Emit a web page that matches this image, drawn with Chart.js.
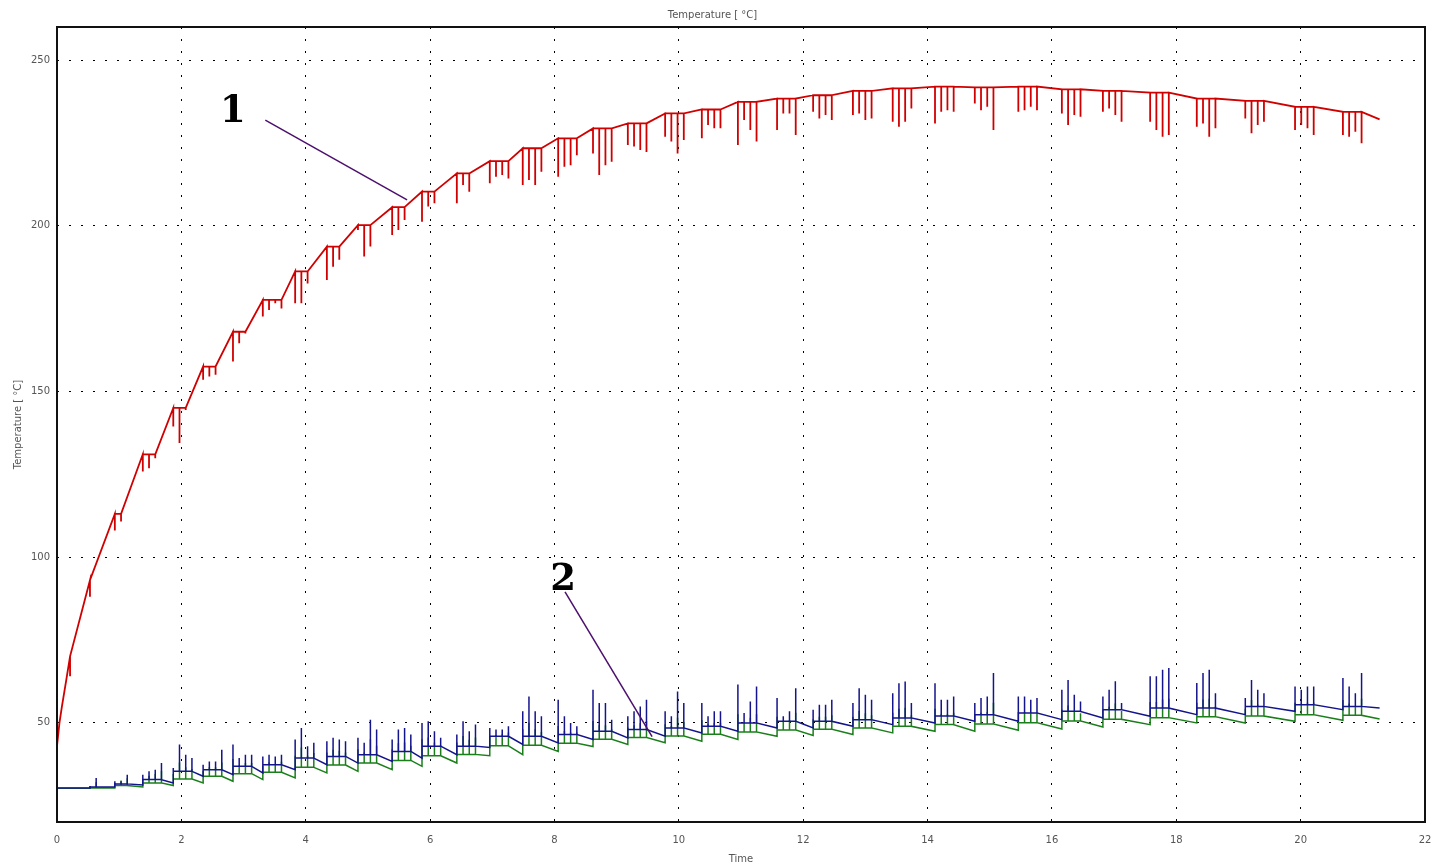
<!DOCTYPE html>
<html>
<head>
<meta charset="utf-8">
<title>Temperature</title>
<script src="https://cdn.jsdelivr.net/npm/chart.js@4.4.1/dist/chart.umd.min.js"></script>
<style>
  html, body { margin: 0; padding: 0; background: #fff; }
  #wrap { width: 1431px; height: 865px; }
</style>
</head>
<body>
<div id="wrap"><canvas id="tempChart" width="1431" height="865"></canvas></div>
<script>
// Times where a burst of events starts (all three curves share them)
const groupTimes = [0.21, 0.53, 0.93, 1.38, 1.87, 2.35, 2.83, 3.31, 3.83, 4.34, 4.84, 5.39,
  5.87, 6.43, 6.96, 7.49, 8.06, 8.62, 9.18, 9.78, 10.37, 10.95, 11.58, 12.16,
  12.80, 13.44, 14.12, 14.76, 15.46, 16.16, 16.82, 17.58, 18.33, 19.11, 19.91, 20.68];
// time of each spike inside a burst, counted from the burst start
const spikeOffsets = [0, 0.1, 0.2, 0.3];
const endTime = 21.27;

// Curve 1 (red)
const redLeadT = [0, 0.04, 0.08, 0.15];
const redLeadY = [43, 50, 55, 63];
const redTop = [70, 93, 113, 131, 145, 157.5, 168, 177.6, 186.2, 193.7, 200.2, 205.6,
  210.3, 215.8, 219.5, 223.4, 226.4, 229.4, 230.9, 233.9, 235.1, 237.4, 238.4, 239.4,
  240.7, 241.5, 242, 241.8, 242, 241.2, 240.7, 240.2, 238.4, 237.7, 235.9, 234.4];
const redDips = [
  [64], [88], [108, 110.7], [125.8, 126.8, 129.8], [139.4, 134.4, 144.4],
  [153.5, 154.5, 155], [159, 164.5, 167.5], [172.6, 174.6, 176.6, 175],
  [176.6, 176.6, 182.6], [183.6, 187.6, 189.7], [198.7, 190.7, 193.7],
  [197.2, 198.7, 201.7], [201.2, 205.8, 206.8], [206.8, 212.3, 210.3],
  [212.8, 214.8, 215.3, 214.3], [212.3, 213.8, 212.3, 216.3], [214.8, 217.8, 218.3, 221.3],
  [221.8, 215.3, 218.3, 219.3], [224.4, 223.9, 222.9, 222.3], [226.9, 225.4, 221.8, 225.9],
  [226.4, 230.4, 229.4, 229.4], [224.4, 231.9, 228.9, 225.4], [228.9, 233.9, 233.9, 227.4],
  [234.4, 232.4, 233.4, 231.9], [233.4, 233.9, 231.9, 232.4], [231.4, 229.9, 231.4, 235.4],
  [230.9, 234.4, 234.9, 234.4], [236.9, 234.9, 235.9, 228.9], [234.4, 234.9, 235.9, 234.9],
  [233.9, 230.4, 233.4, 232.9], [234.4, 235.4, 233.4, 231.4], [231.4, 228.9, 226.9, 227.4],
  [229.9, 230.9, 226.9, 229.4], [232.4, 227.9, 230.4, 231.4], [228.9, 230.4, 229.4, 227.4],
  [227.4, 226.9, 228.4, 224.9]];
const redEnd = 232.1;

// Curve 2, upper (blue)
const blueStart = 30.3;
const blueBase = [30.3, 30.3, 30.6, 31.2, 31.8, 33.8, 34.3, 34.8, 35.8, 37.3, 37.8, 38.3,
  39.3, 40.3, 42.5, 43.4, 43.9, 44.9, 45.4, 45.9, 46.9, 47.4, 48.4, 48.4,
  48.9, 49.4, 49.9, 50.4, 50.4, 50.9, 51.4, 51.9, 52.4, 52.4, 53.4, 53.9];
const blueAfter = [30.3, 30.6, 31.5, 32.8, 35.3, 35.8, 36.8, 37.3, 39.3, 39.8, 40.3, 41.3,
  42.9, 42.9, 45.9, 45.9, 46.4, 47.4, 47.9, 48.4, 48.9, 49.9, 50.4, 50.4,
  50.9, 51.4, 52.0, 52.4, 52.9, 53.4, 53.9, 54.4, 54.4, 54.9, 55.4, 54.9];
const bluePeaks = [
  [], [30.9, 33.3], [32.3, 32.3, 34.3], [34.3, 35.3, 35.8, 37.8], [36.3, 43.4, 40.3, 39.3],
  [37.3, 38.3, 38.3, 41.8], [43.4, 39.3, 40.3, 40.3], [39.8, 40.3, 39.8, 40.3],
  [44.9, 48.4, 42.9, 43.9], [44.4, 45.4, 44.9, 44.4], [45.4, 43.9, 50.9, 47.9],
  [44.9, 47.9, 48.4, 46.4], [49.9, 50.4, 47.4, 45.4], [46.4, 50.4, 47.4, 49.4],
  [48.4, 47.9, 47.9, 48.9], [53.4, 57.9, 53.4, 51.9], [56.9, 51.9, 49.9, 48.9],
  [59.9, 55.9, 55.9, 50.9], [51.9, 53.4, 54.9, 56.9], [53.4, 51.9, 59.4, 55.9],
  [55.9, 51.9, 53.4, 53.4], [61.5, 52.9, 56.4, 60.9], [57.4, 51.9, 53.4, 60.4],
  [53.9, 55.4, 55.4, 56.9], [55.9, 60.4, 58.4, 56.9], [58.9, 61.9, 62.4, 55.9],
  [61.9, 56.9, 56.9, 57.9], [55.9, 57.4, 57.9, 65.0], [57.9, 57.9, 56.9, 57.4],
  [59.9, 62.9, 58.4, 56.4], [57.9, 59.9, 62.5, 55.9], [64.0, 64.0, 66.0, 66.5],
  [62.0, 65.0, 66.0, 58.9], [57.4, 62.9, 59.9, 58.9], [60.9, 59.9, 60.9, 60.9],
  [63.5, 60.9, 58.9, 65.0]];
const blueEnd = 54.4;

// Curve 2, lower (green)
const greenStart = 30.2;
const greenBase = [30.2, 30.2, 30.3, 30.6, 31.0, 31.8, 32.3, 32.8, 33.3, 34.8, 35.3, 35.8,
  36.8, 37.8, 40.0, 40.3, 41.3, 42.8, 43.4, 43.9, 44.4, 44.9, 45.9, 46.1,
  46.4, 46.9, 47.4, 47.4, 47.7, 48.1, 48.7, 49.4, 49.9, 49.9, 50.4, 50.7];
const greenAfter = [30.2, 30.3, 31.0, 31.8, 33.0, 33.8, 34.6, 35.0, 36.5, 37.2, 37.8, 38.6,
  40.0, 40.4, 43.0, 43.2, 43.8, 45.0, 45.5, 46.0, 46.5, 47.2, 47.8, 48.0,
  48.4, 48.9, 49.4, 49.6, 50.0, 50.5, 51.0, 51.5, 51.8, 52.0, 52.4, 52.2];
const greenPeaks = [
  [], [30.8, 32.0], [31.8, 32.5, 33.2], [33.0, 34.0, 34.5, 35.5], [34.5, 38.0, 36.5, 36.0],
  [35.5, 36.5, 36.5, 38.0], [39.0, 37.0, 37.8, 37.8], [37.0, 38.0, 37.5, 38.2],
  [40.0, 42.5, 40.0, 40.8], [41.0, 41.8, 41.5, 41.0], [42.0, 41.0, 45.0, 43.0],
  [42.0, 43.8, 44.0, 43.0], [45.0, 45.5, 44.0, 43.2], [44.0, 46.0, 44.8, 45.5],
  [46.0, 46.2, 46.5, 47.0], [48.0, 50.0, 48.0, 47.2], [49.0, 47.5, 47.0, 47.0],
  [50.5, 49.2, 49.2, 48.0], [48.5, 49.2, 49.8, 50.5], [49.5, 49.0, 51.5, 50.2],
  [50.8, 49.5, 50.0, 50.0], [52.5, 50.0, 51.5, 52.5], [51.8, 50.2, 50.8, 53.0],
  [51.0, 51.8, 51.8, 52.2], [51.8, 53.5, 52.8, 52.2], [53.0, 54.2, 54.5, 52.2],
  [54.2, 52.5, 52.5, 53.0], [52.5, 53.0, 53.2, 56.0], [53.2, 53.2, 52.8, 53.0],
  [54.0, 55.2, 53.5, 52.8], [54.0, 54.8, 55.8, 53.5], [56.2, 56.2, 57.0, 57.2],
  [56.0, 57.0, 57.2, 54.8], [54.2, 56.8, 55.5, 55.0], [56.0, 55.8, 56.0, 56.0],
  [56.8, 55.8, 55.0, 57.2]];
const greenEnd = 51.1;

// axes
const xTickValues = [0, 2, 4, 6, 8, 10, 12, 14, 16, 18, 20, 22];
const yTickValues = [50, 100, 150, 200, 250];

// callout numbers "1" and "2" (data coordinates)
const calloutText = ['1', '2'];
const calloutAt = [[2.83, 231.3], [8.14, 90.1]];
const calloutFrom = [[3.35, 231.9], [8.17, 89.5]];
const calloutTo = [[5.63, 207.8], [9.57, 45.8]];

function redPoints() {
  const pts = redLeadT.map((t, i) => ({ x: t, y: redLeadY[i] }));
  groupTimes.forEach((t0, i) => {
    const top = redTop[i];
    pts.push({ x: t0, y: top });
    redDips[i].forEach((low, k) => {
      const t = t0 + spikeOffsets[k];
      pts.push({ x: t, y: top }, { x: t, y: low }, { x: t, y: top });
    });
  });
  pts.push({ x: endTime, y: redEnd });
  return pts;
}

function spikyPoints(start, base, after, peaks, end) {
  const pts = [{ x: 0, y: start }];
  groupTimes.forEach((t0, i) => {
    pts.push({ x: t0, y: base[i] });
    peaks[i].forEach((p, k) => {
      const t = t0 + spikeOffsets[k];
      const lvl = k === 0 ? base[i] : after[i];
      pts.push({ x: t, y: lvl }, { x: t, y: p }, { x: t, y: after[i] });
    });
  });
  pts.push({ x: endTime, y: end });
  return pts;
}

const calloutPlugin = {
  id: 'callouts',
  afterDatasetsDraw(chart) {
    const { ctx, chartArea, scales: { x, y } } = chart;
    ctx.save();
    // frame round the plot
    ctx.strokeStyle = '#111';
    ctx.lineWidth = 2;
    ctx.strokeRect(chartArea.left, chartArea.top, chartArea.right - chartArea.left, chartArea.bottom - chartArea.top);

    ctx.strokeStyle = '#4b0f6e';
    ctx.lineWidth = 1.5;
    calloutFrom.forEach((p, i) => {
      ctx.beginPath();
      ctx.moveTo(x.getPixelForValue(p[0]), y.getPixelForValue(p[1]));
      ctx.lineTo(x.getPixelForValue(calloutTo[i][0]), y.getPixelForValue(calloutTo[i][1]));
      ctx.stroke();
    });
    ctx.fillStyle = '#000';
    ctx.font = 'bold 37px "DejaVu Serif"';
    ctx.textAlign = 'center';
    ctx.textBaseline = 'alphabetic';
    calloutText.forEach((txt, i) => {
      ctx.fillText(txt, x.getPixelForValue(calloutAt[i][0]), y.getPixelForValue(calloutAt[i][1]));
    });
    ctx.restore();
  }
};

Chart.defaults.font.family = "'DejaVu Sans', sans-serif";
Chart.defaults.font.size = 10;
Chart.defaults.color = '#555';

const ctx = document.getElementById('tempChart');
new Chart(ctx, {
  type: 'line',
  data: {
    datasets: [
      { label: '1', data: redPoints(), borderColor: '#d00000', borderWidth: 1.8, pointRadius: 0, tension: 0 },
      { label: '2a', data: spikyPoints(blueStart, blueBase, blueAfter, bluePeaks, blueEnd), borderColor: '#14148c', borderWidth: 1.5, pointRadius: 0, tension: 0 },
      { label: '2b', data: spikyPoints(greenStart, greenBase, greenAfter, greenPeaks, greenEnd), borderColor: '#1a7f1a', borderWidth: 1.5, pointRadius: 0, tension: 0 }
    ]
  },
  options: {
    responsive: false,
    animation: false,
    devicePixelRatio: 1,
    layout: { padding: { top: 0, right: 6, bottom: 0, left: 0 } },
    plugins: {
      legend: { display: false },
      tooltip: { enabled: false },
      title: {
        display: true,
        text: 'Temperature [ °C]',
        color: '#555',
        font: { size: 10, weight: 'normal' },
        padding: { top: 9, bottom: 6 }
      }
    },
    scales: {
      x: {
        type: 'linear',
        min: 0,
        max: 22,
        afterBuildTicks: s => { s.ticks = xTickValues.map(v => ({ value: v })); },
        afterFit: s => { s.height = 43; s.paddingLeft = 0; s.paddingRight = 0; },
        ticks: { padding: 12, maxRotation: 0, autoSkip: false, color: '#555' },
        grid: { color: '#000', lineWidth: 1, drawTicks: false },
        border: { display: false, dash: [2, 10] },
        title: { display: true, text: 'Time', color: '#555', padding: { top: 2, bottom: 0 } }
      },
      y: {
        min: 20,
        max: 260,
        afterBuildTicks: s => { s.ticks = yTickValues.map(v => ({ value: v })); },
        afterFit: s => { s.width = 57; s.paddingTop = 0; s.paddingBottom = 0; },
        ticks: { padding: 7, color: '#555' },
        grid: { color: '#000', lineWidth: 1, drawTicks: false },
        border: { display: false, dash: [2, 10] },
        title: { display: true, text: 'Temperature [ °C]', color: '#555', padding: { top: 12, bottom: 0 } }
      }
    }
  },
  plugins: [calloutPlugin]
});
</script>
</body>
</html>
